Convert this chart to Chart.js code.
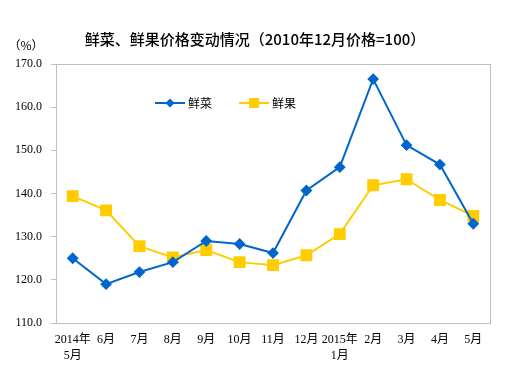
<!DOCTYPE html>
<html>
<head>
<meta charset="utf-8">
<script src="https://cdn.jsdelivr.net/npm/chart.js@4"></script>
<style>
html,body{margin:0;padding:0;background:#fff;}
#wrap{width:532px;height:372px;position:relative;}
</style>
</head>
<body>
<div id="wrap"><canvas id="c" width="532" height="372"></canvas></div>
<script>
const categories = [["2014年","5月"],"6月","7月","8月","9月","10月","11月","12月",["2015年","1月"],"2月","3月","4月","5月"];
const vegetables = [125.0,119.0,121.8,124.1,129.0,128.3,126.2,140.7,146.1,166.5,151.2,146.7,133.0];
const fruits = [139.4,136.1,127.8,125.2,126.9,124.1,123.4,125.7,130.6,141.9,143.3,138.5,134.8];
const seriesNames = ["鲜菜","鲜果"];
const yTicks = [110,120,130,140,150,160,170];
const titleText = "鲜菜、鲜果价格变动情况（2010年12月价格=100）";
const unitText = "（%）";

const BLUE = "#0066CC", YELLOW = "#FFCC00", GREY = "#BFBFBF";
const CJK = '"Liberation Serif","Noto Sans CJK SC",serif';

const decor = {
  id: 'decor',
  afterDraw(chart) {
    const ctx = chart.ctx, a = chart.chartArea;
    ctx.save();
    ctx.strokeStyle = GREY; ctx.lineWidth = 1;
    ctx.strokeRect(Math.round(a.left)+0.5, Math.round(a.top)+0.5, Math.round(a.right-a.left), Math.round(a.bottom-a.top));
    ctx.fillStyle = '#000';
    ctx.font = '500 15px "Noto Sans CJK SC", sans-serif';
    ctx.textAlign = 'center'; ctx.textBaseline = 'middle';
    ctx.fillText(titleText, 255, 39);
    ctx.font = '12px "Noto Sans CJK SC", sans-serif';
    ctx.fillText(unitText, 26, 45);
    // legend inside plot
    const items = [{x:155, ds:chart.data.datasets[0]}, {x:239, ds:chart.data.datasets[1]}];
    const ly = 103;
    items.forEach(it => {
      ctx.strokeStyle = it.ds.borderColor; ctx.lineWidth = 2;
      ctx.beginPath(); ctx.moveTo(it.x, ly); ctx.lineTo(it.x+30, ly); ctx.stroke();
      ctx.fillStyle = it.ds.pointBackgroundColor;
      ctx.beginPath();
      const cx = it.x+15;
      if (it.ds.pointStyle === 'rectRot') {
        const r = it.ds.pointRadius;
        ctx.moveTo(cx, ly-r); ctx.lineTo(cx+r, ly); ctx.lineTo(cx, ly+r); ctx.lineTo(cx-r, ly); ctx.closePath();
      } else {
        const s = it.ds.pointRadius*Math.SQRT1_2;
        ctx.rect(cx-s, ly-s, 2*s, 2*s);
      }
      ctx.fill();
      ctx.fillStyle = '#000';
      ctx.font = '12px "Noto Sans CJK SC", sans-serif';
      ctx.textAlign = 'left'; ctx.textBaseline = 'middle';
      ctx.fillText(it.ds.label, it.x+33, ly);
    });
    ctx.restore();
  }
};

new Chart(document.getElementById('c'), {
  type: 'line',
  data: {
    labels: categories,
    datasets: [
      {label: seriesNames[0], data: vegetables, borderColor: BLUE, backgroundColor: BLUE,
       pointBackgroundColor: BLUE, pointBorderColor: BLUE, pointStyle: 'rectRot', pointRadius: 4.5,
       borderWidth: 2, tension: 0},
      {label: seriesNames[1], data: fruits, borderColor: YELLOW, backgroundColor: YELLOW,
       pointBackgroundColor: YELLOW, pointBorderColor: YELLOW, pointStyle: 'rect', pointRadius: 7,
       borderWidth: 2, tension: 0}
    ]
  },
  options: {
    responsive: false,
    animation: false,
    devicePixelRatio: 1,
    layout: {padding: {top: 64, right: 42, left: 0, bottom: 0}},
    plugins: {legend: {display: false}, title: {display: false}, tooltip: {enabled: false}},
    scales: {
      x: {
        offset: true,
        grid: {display: false, drawTicks: false},
        border: {display: false},
        ticks: {autoSkip: false, maxRotation: 0, minRotation: 0, padding: 9, color: '#000',
                font: {family: CJK, size: 12, lineHeight: 1.33}},
        afterFit(s) { s.height = 49; }
      },
      y: {
        min: 110, max: 170,
        afterBuildTicks(s) { s.ticks = yTicks.map(v => ({value: v})); },
        grid: {drawOnChartArea: false, drawTicks: true, tickLength: 5, color: GREY},
        border: {display: false},
        ticks: {padding: 9, color: '#000', font: {family: CJK, size: 12},
                callback: v => Number(v).toFixed(1)},
        afterFit(s) { s.width = 56; }
      }
    }
  },
  plugins: [decor]
});
</script>
</body>
</html>
